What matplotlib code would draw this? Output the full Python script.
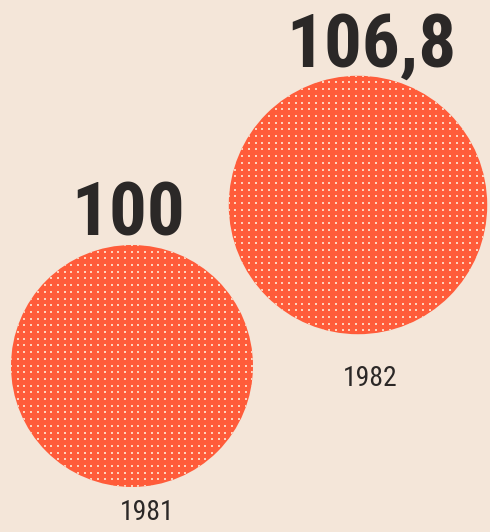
import numpy as np
import matplotlib
matplotlib.use("Agg")
import matplotlib.pyplot as plt
from matplotlib.patches import Circle

# data
years = ["1981", "1982"]
values = [100, 106.8]
value_labels = ["100", "106,8"]

# layout (pixels, y down)
centers = [(132, 366), (358, 205)]
base_radius = 121
label_x = [128, 371]
year_pos = [(147, 512), (370, 378)]

bg = "#f4e6d9"
orange = "#ff5c3a"
dot = "#ffd2bc"
ink = "#2b2827"
big_font = ["Roboto Condensed", "DejaVu Sans"]
small_font = ["Roboto Condensed", "DejaVu Sans"]

fig = plt.figure(figsize=(4.9, 5.32), dpi=100)
fig.patch.set_facecolor(bg)
ax = fig.add_axes([0, 0, 1, 1])
ax.set_xlim(0, 490)
ax.set_ylim(532, 0)
ax.set_aspect("equal")
ax.axis("off")

step = 6.7
for (cx, cy), v, lab, lx, yr, (yx, yy) in zip(centers, values, value_labels,
                                               label_x, years, year_pos):
    r = base_radius * v / values[0]
    circ = Circle((cx, cy), r, facecolor=orange, edgecolor="none", zorder=2)
    ax.add_patch(circ)
    # halftone dots
    gx = np.arange(cx - r, cx + r, step)
    gy = np.arange(cy - r, cy + r, step)
    X, Y = np.meshgrid(gx, gy)
    pts = ax.scatter(X.ravel(), Y.ravel(), s=4.0, marker="s", c=dot,
                     linewidths=0, zorder=3)
    pts.set_clip_path(circ)
    ax.text(lx, cy - r - 9, lab, ha="center", va="baseline",
            fontsize=54, fontweight="bold", color=ink,
            family=big_font, zorder=4)
    ax.text(yx, yy, yr, ha="center", va="center", fontsize=20,
            color=ink, family=small_font, zorder=4)

fig.savefig("out.png", dpi=100, facecolor=bg)
